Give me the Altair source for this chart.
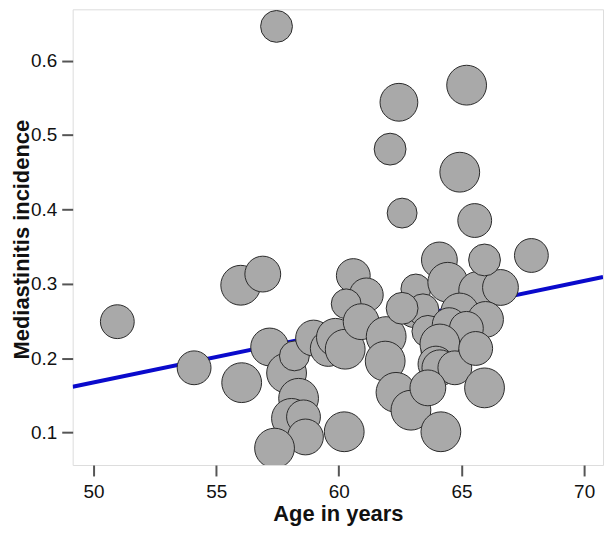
import altair as alt
import pandas as pd

# Bubble data (age, incidence, relative size)
age = [57.46, 62.45, 62.09, 65.21, 64.93, 62.58, 65.54, 67.85, 50.97, 54.10,
       56.00, 56.90, 56.04, 57.18, 57.87, 58.19, 58.36, 58.07, 58.56, 58.64,
       57.38, 58.97, 59.57, 59.86, 60.26, 60.22, 60.59, 61.12, 60.30, 60.91,
       61.93, 61.89, 62.33, 62.94, 63.10, 63.14, 64.10, 64.44, 65.66, 66.59,
       64.93, 65.98, 65.94, 63.43, 62.58, 63.63, 64.50, 65.20, 64.04, 64.12,
       63.96, 64.12, 64.73, 65.58, 65.94, 63.63, 64.16]
incidence = [0.646, 0.544, 0.481, 0.567, 0.450, 0.395, 0.385, 0.338, 0.249, 0.187,
             0.298, 0.313, 0.167, 0.215, 0.180, 0.203, 0.146, 0.119, 0.121, 0.094,
             0.079, 0.227, 0.213, 0.228, 0.212, 0.101, 0.311, 0.285, 0.273, 0.249,
             0.229, 0.196, 0.154, 0.130, 0.265, 0.293, 0.332, 0.302, 0.291, 0.295,
             0.262, 0.252, 0.332, 0.265, 0.267, 0.236, 0.245, 0.240, 0.210, 0.219,
             0.192, 0.187, 0.187, 0.213, 0.160, 0.160, 0.101]
weight = [16, 19, 16, 20, 20, 15, 17, 17, 17, 17,
          20, 18, 20, 19, 20, 15, 20, 20, 17, 18,
          20, 18, 18, 19, 20, 20, 17, 17, 15, 18,
          20, 20, 20, 20, 18, 15, 18, 20, 19, 18,
          19, 18, 16, 16, 16, 16, 17, 17, 17, 20,
          18, 18, 17, 17, 20, 18, 20]

# Fitted regression line endpoints
fit_age = [49.15, 70.77]
fit_inc = [0.1616, 0.3090]

pts = pd.DataFrame({"age": age, "inc": incidence, "w": weight})
fit = pd.DataFrame({"age": fit_age, "inc": fit_inc})

xscale = alt.Scale(domain=[49.15, 70.77], nice=False, zero=False)
yscale = alt.Scale(domain=[0.0563, 0.669], nice=False, zero=False)

xaxis = alt.Axis(title="Age in years", values=[50, 55, 60, 65, 70], grid=False,
                 domain=False, tickSize=11, tickWidth=2, tickColor="#555555",
                 labelFontSize=19, labelFont="Liberation Sans", labelColor="#111111",
                 labelPadding=7, titleFont="Liberation Sans", titleFontSize=22,
                 titleFontWeight="bold", titleColor="#111111", titlePadding=2)
yaxis = alt.Axis(title="Mediastinitis incidence", values=[0.1, 0.2, 0.3, 0.4, 0.5, 0.6],
                 format=".1f", grid=False, domain=False, tickSize=11, tickWidth=2,
                 tickColor="#555555", labelFontSize=19, labelFont="Liberation Sans",
                 labelColor="#111111", labelPadding=5, titleFont="Liberation Sans",
                 titleFontSize=22, titleFontWeight="bold", titleColor="#111111",
                 titleX=-44, titleY=231, titleAngle=270, titleAlign="center",
                 titleBaseline="alphabetic")

line = alt.Chart(fit).mark_line(color="#0a0acc", strokeWidth=4, clip=True).encode(
    x=alt.X("age:Q", scale=xscale, axis=xaxis),
    y=alt.Y("inc:Q", scale=yscale, axis=yaxis),
)

bubbles = alt.Chart(pts).mark_circle(
    fill="#a9a9a9", stroke="#2a2a2a", strokeWidth=1, opacity=1, fillOpacity=1, clip=True
).encode(
    x=alt.X("age:Q", scale=xscale),
    y=alt.Y("inc:Q", scale=yscale),
    size=alt.Size("w:Q", scale=alt.Scale(type="pow", exponent=2, domain=[15, 20],
                                         range=[900, 1600], zero=False), legend=None),
)

chart = alt.layer(line, bubbles).properties(
    width=533, height=458,
    autosize=alt.AutoSizeParams(type="none"),
    padding={"left": 65, "top": 0, "right": 2, "bottom": 62},
).configure_view(stroke="#555555", strokeWidth=2).configure(background="white")

chart.save("out.html", embed_options={"renderer": "svg", "actions": False})
